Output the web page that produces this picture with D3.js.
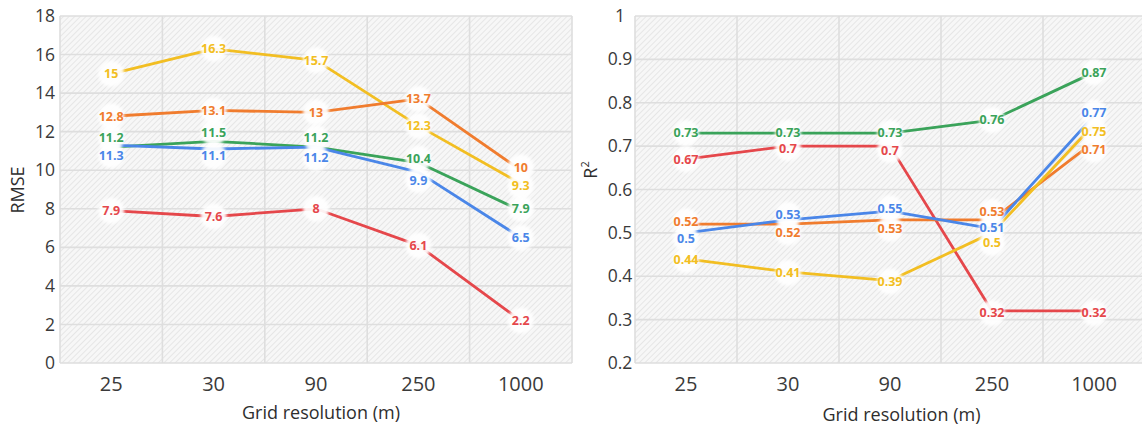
<!DOCTYPE html>
<html>
<head>
<meta charset="utf-8">
<script src="https://cdn.jsdelivr.net/npm/d3@7"></script>
<style>
  html, body { margin: 0; padding: 0; background: #fff; }
  svg { display: block; font-family: "Open Sans", "DejaVu Sans", sans-serif; }
</style>
</head>
<body>
<svg id="chart" width="1142" height="430"></svg>
<script>
// ---------- data ----------
const categories = ["25", "30", "90", "250", "1000"];

const rmseTicks = [0, 2, 4, 6, 8, 10, 12, 14, 16, 18];
const rmseYellow = [15, 16.3, 15.7, 12.3, 9.3];
const rmseOrange = [12.8, 13.1, 13, 13.7, 10];
const rmseGreen  = [11.2, 11.5, 11.2, 10.4, 7.9];
const rmseBlue   = [11.3, 11.1, 11.2, 9.9, 6.5];
const rmseRed    = [7.9, 7.6, 8, 6.1, 2.2];

const r2Ticks = [0.2, 0.3, 0.4, 0.5, 0.6, 0.7, 0.8, 0.9, 1];
const r2Green  = [0.73, 0.73, 0.73, 0.76, 0.87];
const r2Red    = [0.67, 0.7, 0.7, 0.32, 0.32];
const r2Orange = [0.52, 0.52, 0.53, 0.53, 0.71];
const r2Blue   = [0.5, 0.53, 0.55, 0.51, 0.77];
const r2Yellow = [0.44, 0.41, 0.39, 0.5, 0.75];

// ---------- styles ----------
const COLORS = {
  yellow: "#F2BE22",
  orange: "#F07C2E",
  green:  "#3AA35A",
  blue:   "#4A86E8",
  red:    "#E5474B"
};
// label vertical nudges (px) to avoid overlaps
const rmseNudge = {
  yellow: [0, 0, 0, 0, 2],
  orange: [0, 0, 0, 0, -3],
  green:  [-9, -9, -9, -4, -2],
  blue:   [10, 7, 11, 8, 0],
  red:    [0, 0, 0, 0, 0]
};
const r2Nudge = {
  green:  [0, 0, 0, 0, 0],
  red:    [0, 2, 4, 2, 2],
  orange: [-3, 8, 9, -8, 8],
  blue:   [6, -5, -3, -1, -3],
  yellow: [1, 1, 1, 10, 7]
};

const svg = d3.select("#chart");
const defs = svg.append("defs");

const pat = defs.append("pattern")
  .attr("id", "hatch")
  .attr("patternUnits", "userSpaceOnUse")
  .attr("width", 4).attr("height", 4)
  .attr("patternTransform", "rotate(-45)");
pat.append("rect").attr("width", 4).attr("height", 4).attr("fill", "#f7f7f7");
pat.append("line").attr("x1", 0).attr("y1", 0).attr("x2", 4).attr("y2", 0)
  .attr("stroke", "#e2e2e2").attr("stroke-width", 1.6);

const blur = defs.append("filter").attr("id", "soft")
  .attr("x", "-50%").attr("y", "-50%").attr("width", "200%").attr("height", "200%");
blur.append("feGaussianBlur").attr("stdDeviation", 1.8);

function drawPanel(cfg) {
  const g = svg.append("g");
  const x = d3.scaleBand().domain(categories).range([cfg.x0, cfg.x1]).padding(0);
  const y = d3.scaleLinear().domain(cfg.domain).range([cfg.y0, cfg.y1]);

  // background
  g.append("rect")
    .attr("x", cfg.x0).attr("y", cfg.y1)
    .attr("width", cfg.x1 - cfg.x0).attr("height", cfg.y0 - cfg.y1)
    .attr("fill", "url(#hatch)");

  // horizontal gridlines
  g.append("g").selectAll("line").data(cfg.ticks).join("line")
    .attr("x1", cfg.x0).attr("x2", cfg.x1)
    .attr("y1", d => y(d)).attr("y2", d => y(d))
    .attr("stroke", "#dedede").attr("stroke-width", 1.6);
  // vertical gridlines at band edges
  const edges = categories.map(c => x(c)).concat([cfg.x1]);
  g.append("g").selectAll("line").data(edges).join("line")
    .attr("x1", d => d).attr("x2", d => d)
    .attr("y1", cfg.y1).attr("y2", cfg.y0)
    .attr("stroke", "#dedede").attr("stroke-width", 1.6);

  // y axis
  const ya = g.append("g")
    .attr("transform", `translate(${cfg.x0},0)`)
    .call(d3.axisLeft(y).tickValues(cfg.ticks).tickSize(0).tickPadding(0)
      .tickFormat(d => d3.format("~g")(d)));
  ya.select(".domain").remove();
  ya.selectAll("text")
    .attr("x", cfg.yLabelX - cfg.x0)
    .attr("text-anchor", cfg.yAnchor)
    .attr("font-family", "Open Sans, sans-serif")
    .attr("font-size", 17.5)
    .attr("fill", "#3a3a3a");

  // x axis
  const xa = g.append("g")
    .attr("transform", `translate(0,${cfg.y0})`)
    .call(d3.axisBottom(x).tickSize(0).tickPadding(14));
  xa.select(".domain").remove();
  xa.selectAll("text")
    .attr("font-family", "Open Sans, sans-serif")
    .attr("font-size", 20)
    .attr("fill", "#3a3a3a");

  // x title
  g.append("text")
    .attr("x", (cfg.x0 + Math.min(cfg.x1, 1142)) / 2 + cfg.titleDx)
    .attr("y", cfg.titleY)
    .attr("text-anchor", "middle")
    .attr("font-size", 18)
    .attr("fill", "#2e2e2e")
    .text("Grid resolution (m)");

  // y title
  const yt = g.append("text")
    .attr("transform", `translate(${cfg.yTitleX},${cfg.yTitleY}) rotate(-90)`)
    .attr("text-anchor", "middle")
    .attr("font-size", 18)
    .attr("fill", "#2e2e2e");
  if (cfg.sup) {
    yt.append("tspan").text(cfg.yTitle);
    yt.append("tspan").attr("font-size", 11).attr("dy", -8).text(cfg.sup);
  } else {
    yt.text(cfg.yTitle);
  }

  const line = d3.line()
    .x((d, i) => x(categories[i]) + x.bandwidth() / 2)
    .y(d => y(d));

  // lines
  cfg.series.forEach(s => {
    g.append("path").datum(s.values)
      .attr("d", line)
      .attr("fill", "none")
      .attr("stroke", COLORS[s.color])
      .attr("stroke-width", 2.8)
      .attr("stroke-linejoin", "round");
  });

  // halos
  cfg.series.forEach(s => {
    g.append("g").selectAll("circle").data(s.values).join("circle")
      .attr("cx", (d, i) => x(categories[i]) + x.bandwidth() / 2)
      .attr("cy", (d, i) => y(d) + cfg.nudge[s.color][i])
      .attr("r", 13)
      .attr("fill", "#fff")
      .attr("fill-opacity", 0.92)
      .attr("filter", "url(#soft)");
  });

  // labels
  cfg.series.forEach(s => {
    g.append("g").selectAll("text").data(s.values).join("text")
      .attr("x", (d, i) => x(categories[i]) + x.bandwidth() / 2)
      .attr("y", (d, i) => y(d) + cfg.nudge[s.color][i])
      .attr("dy", "0.35em")
      .attr("text-anchor", "middle")
      .attr("font-size", 12.5)
      .attr("font-weight", "bold")
      .attr("fill", COLORS[s.color])
      .text(d => d3.format("~g")(d));
  });
}

drawPanel({
  x0: 60, x1: 572, y0: 363, y1: 16,
  domain: [0, 18], ticks: rmseTicks,
  yLabelX: 55, yAnchor: "end",
  yTitle: "RMSE", yTitleX: 24, yTitleY: 190,
  titleY: 419, titleDx: 5,
  nudge: rmseNudge,
  series: [
    { color: "yellow", values: rmseYellow },
    { color: "orange", values: rmseOrange },
    { color: "green",  values: rmseGreen },
    { color: "blue",   values: rmseBlue },
    { color: "red",    values: rmseRed }
  ]
});

drawPanel({
  x0: 635, x1: 1145, y0: 363, y1: 16,
  domain: [0.2, 1], ticks: r2Ticks,
  yLabelX: 620, yAnchor: "middle",
  yTitle: "R", sup: "2", yTitleX: 597, yTitleY: 170,
  titleY: 421, titleDx: 13,
  nudge: r2Nudge,
  series: [
    { color: "green",  values: r2Green },
    { color: "red",    values: r2Red },
    { color: "orange", values: r2Orange },
    { color: "blue",   values: r2Blue },
    { color: "yellow", values: r2Yellow }
  ]
});
</script>
</body>
</html>
